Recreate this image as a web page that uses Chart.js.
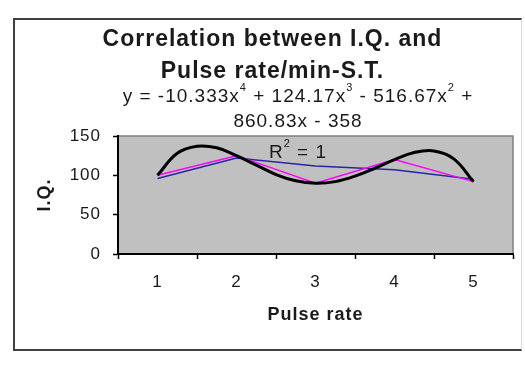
<!DOCTYPE html>
<html>
<head>
<meta charset="utf-8">
<title>Correlation between I.Q. and Pulse rate</title>
<script src="https://cdn.jsdelivr.net/npm/chart.js@4.4.1/dist/chart.umd.min.js"></script>
<style>
  html, body { margin: 0; padding: 0; background: #fff; }
  #frame {
    position: absolute; left: 13px; top: 18px; width: 509px; height: 333px;
    box-sizing: border-box;
    border: 2px solid #404040; border-right: 1px solid #dcdcdc;
  }
  #chart1 { position: absolute; left: 0; top: 0; }
</style>
</head>
<body>
<div id="frame"></div>
<canvas id="chart1" width="525" height="365"></canvas>
<script>
// data
const pulseRate = ['1', '2', '3', '4', '5'];
const iqValues = [100, 125, 90, 120, 92];
const blueValues = [96, 122, 112, 107, 95];
// polynomial trendline, read at quarter steps
const trendX = [1, 1.25, 1.5, 1.75, 2, 2.25, 2.5, 2.75, 3, 3.25, 3.5, 3.75, 4, 4.25, 4.5, 4.75, 5];
const trendY = [100, 128, 137, 135, 125, 113, 101, 93, 90, 92, 99, 109, 120, 129, 131, 121, 92];
const yTicks = [0, 50, 100, 150];
const titleLines = ['Correlation between I.Q. and', 'Pulse rate/min-S.T.'];
const equationLines = ['y = -10.333x^4 + 124.17x^3 - 516.67x^2 +', '860.83x - 358'];
const r2Label = 'R^2 = 1';

const FONT = "'Liberation Sans', Arial, sans-serif";

// draws text where ^n means superscript n
function drawRich(c, text, cx, cy, size) {
  const parts = text.split(/\^(\d)/);
  const supSize = Math.round(size * 0.6);
  let total = 0;
  const widths = parts.map((p, i) => {
    c.font = (i % 2 ? supSize : size) + 'px ' + FONT;
    const w = c.measureText(p).width;
    total += w;
    return w;
  });
  let x = cx - total / 2;
  c.textAlign = 'left';
  c.textBaseline = 'middle';
  parts.forEach((p, i) => {
    const sup = i % 2 === 1;
    c.font = (sup ? supSize : size) + 'px ' + FONT;
    c.fillText(p, x, sup ? cy - size * 0.45 : cy);
    x += widths[i];
  });
}

// gray plot area + trendline label
const plotArea = {
  id: 'plotArea',
  beforeDraw(chart) {
    const c = chart.ctx;
    const a = chart.chartArea;
    c.letterSpacing = '1px';
    c.save();
    c.fillStyle = '#c0c0c0';
    c.fillRect(a.left, a.top, a.right - a.left, a.bottom - a.top);
    c.strokeStyle = '#808080';
    c.lineWidth = 1.5;
    c.beginPath();
    c.moveTo(a.left, a.top);
    c.lineTo(a.right, a.top);
    c.lineTo(a.right, a.bottom);
    c.stroke();
    c.restore();
  },
  afterDatasetsDraw(chart) {
    const c = chart.ctx;
    const a = chart.chartArea;
    c.save();
    c.fillStyle = '#1a1a1a';
    const cx = a.left + 180;
    drawRich(c, equationLines[0], cx, a.top - 39, 19);
    drawRich(c, equationLines[1], cx, a.top - 14, 19);
    drawRich(c, r2Label, cx, a.top + 17, 19);
    c.restore();
  }
};

document.addEventListener('DOMContentLoaded', function() {
  const ctx1 = document.getElementById('chart1');
  new Chart(ctx1, {
    type: 'line',
    data: {
      labels: pulseRate,
      datasets: [
        {
          label: 'Poly. (I.Q.)',
          data: trendX.map((x, i) => ({ x: x, y: trendY[i] })),
          xAxisID: 'x2',
          borderColor: '#000000',
          borderWidth: 3,
          tension: 0.4,
          pointRadius: 0
        },
        {
          label: 'I.Q.',
          data: iqValues,
          borderColor: '#ff00ff',
          borderWidth: 1.5,
          tension: 0,
          pointRadius: 0
        },
        {
          label: 'Series 2',
          data: blueValues,
          borderColor: '#2626a6',
          borderWidth: 1.5,
          tension: 0,
          pointRadius: 0
        }
      ]
    },
    options: {
      responsive: false,
      animation: false,
      layout: { padding: { left: 32, top: 0, right: 12, bottom: 0 } },
      plugins: {
        legend: { display: false },
        tooltip: { enabled: false },
        title: {
          display: true,
          text: titleLines,
          color: '#1a1a1a',
          font: { family: FONT, size: 23, weight: 'bold', lineHeight: 32 / 23 },
          padding: { top: 24, bottom: 48 }
        }
      },
      scales: {
        x: {
          type: 'category',
          offset: true,
          afterFit: s => { s.height = 111; },
          border: { color: '#000', width: 2 },
          grid: { offset: true, drawOnChartArea: false, tickLength: 5, color: '#000', tickWidth: 1.5 },
          ticks: { color: '#1a1a1a', padding: 13, font: { family: FONT, size: 17 } },
          title: {
            display: true,
            text: 'Pulse rate',
            color: '#1a1a1a',
            font: { family: FONT, size: 18, weight: 'bold' },
            padding: { top: 0, bottom: 39 }
          }
        },
        x2: {
          type: 'linear',
          display: false,
          min: 0.5,
          max: 5.5
        },
        y: {
          min: yTicks[0],
          max: yTicks[yTicks.length - 1],
          afterFit: s => { s.width = 86; },
          afterBuildTicks: s => { s.ticks = yTicks.map(v => ({ value: v })); },
          border: { color: '#000', width: 2 },
          grid: { drawOnChartArea: false, tickLength: 5, color: '#000', tickWidth: 1.5 },
          ticks: { color: '#1a1a1a', padding: 12, font: { family: FONT, size: 17 } },
          title: {
            display: true,
            text: 'I.Q.',
            color: '#1a1a1a',
            font: { family: FONT, size: 18, weight: 'bold' },
            padding: { top: 2, bottom: 0 }
          }
        }
      }
    },
    plugins: [plotArea]
  });
});
</script>
</body>
</html>
